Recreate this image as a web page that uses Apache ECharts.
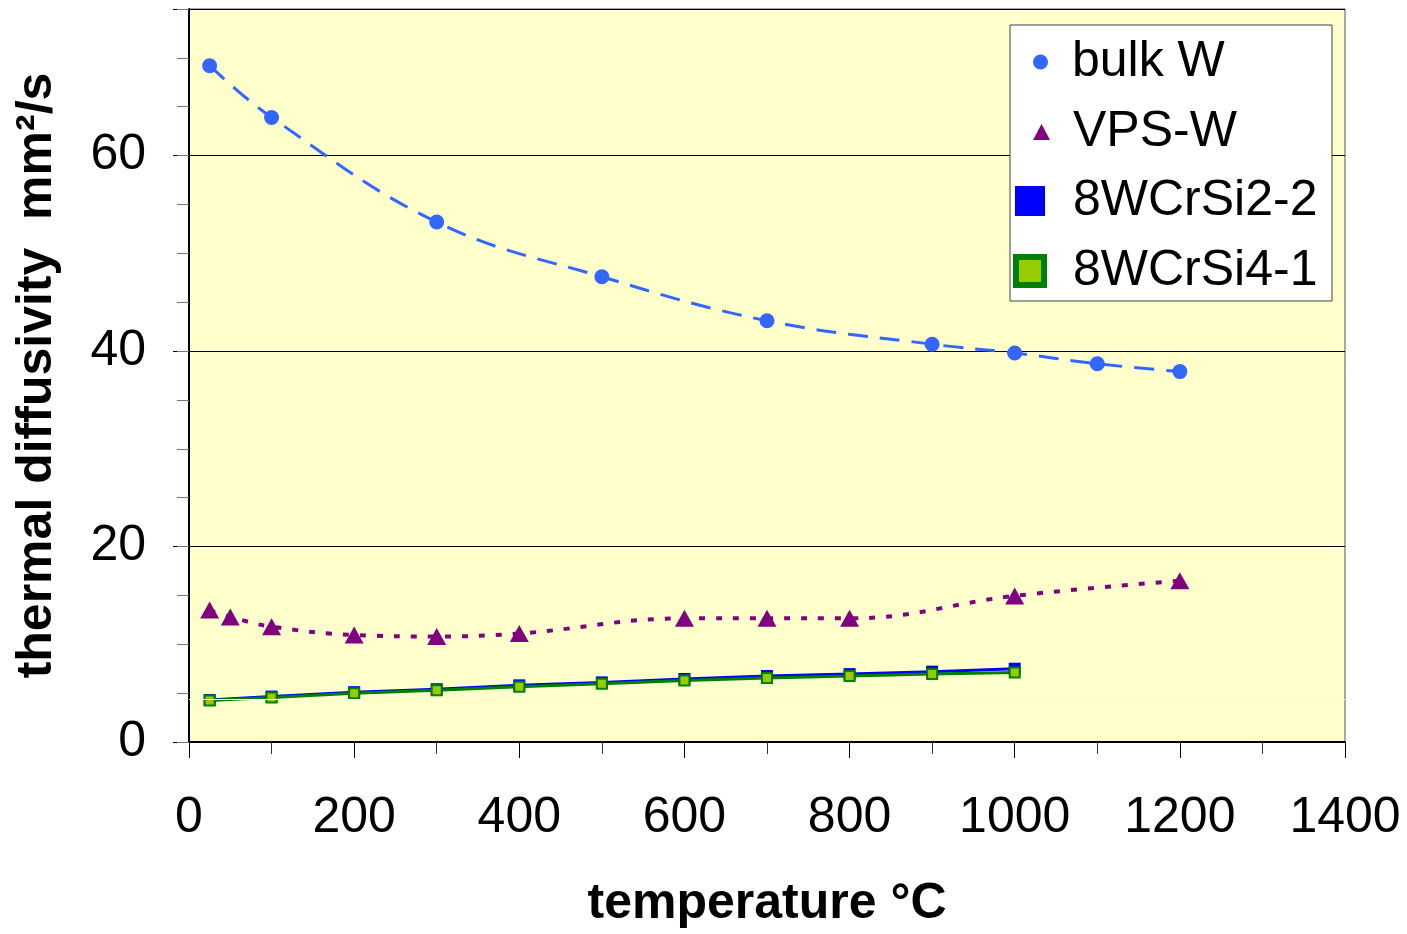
<!DOCTYPE html>
<html>
<head>
<meta charset="utf-8">
<script src="https://cdn.jsdelivr.net/npm/echarts@6/dist/echarts.min.js"></script>
<style>
  html, body { margin: 0; padding: 0; background: #fff; }
  #chart { width: 1407px; height: 934px; }
</style>
</head>
<body>
<div id="chart"></div>
<script>
// values
const bulkT = [25, 100, 300, 500, 700, 900, 1000, 1100, 1200]
const bulkW = [69.2, 63.9, 53.2, 47.6, 43.1, 40.7, 39.8, 38.7, 37.9]
const vpsT = [25, 50, 100, 200, 300, 400, 600, 700, 800, 1000, 1200]
const vpsW = [13.5, 12.8, 11.8, 10.95, 10.8, 11.1, 12.65, 12.65, 12.65, 14.95, 16.5]
const crT = [25, 100, 200, 300, 400, 500, 600, 700, 800, 900, 1000]
const cr22 = [4.3, 4.65, 5.1, 5.4, 5.8, 6.1, 6.45, 6.75, 6.95, 7.2, 7.5]
const cr41 = [4.25, 4.55, 5.0, 5.3, 5.65, 5.95, 6.3, 6.55, 6.75, 6.95, 7.1]
const names = ['bulk W', 'VPS-W', '8WCrSi2-2', '8WCrSi4-1']

const font = 'Liberation Sans, Arial, sans-serif'
const pairs = (xs, ys) => xs.map((x, i) => [x, ys[i]])

const chart = echarts.init(document.getElementById('chart'))

// one legend per entry so every icon can have its own size,
// text pushed to the same left edge with padding
function legendItem (name, icon, w, h, left, top, gap, itemStyle) {
  return {
    data: [{ name: name, icon: icon, itemStyle: itemStyle }],
    left: left,
    top: top,
    padding: 0,
    itemWidth: w,
    itemHeight: h,
    selectedMode: false,
    textStyle: { fontFamily: font, fontSize: 50, color: '#000', padding: [0, 0, 0, gap] }
  }
}

const option = {
  backgroundColor: '#fff',
  animation: false,
  grid: {
    left: 189,
    top: 9,
    right: 62,
    bottom: 189,
    show: true,
    backgroundColor: '#FFFFCC',
    borderColor: '#555',
    borderWidth: 1
  },
  graphic: [{
    type: 'rect',
    z: 3,
    shape: { x: 1010, y: 25, width: 322, height: 276 },
    style: { fill: '#fff', stroke: '#404040', lineWidth: 1 }
  }],
  legend: [
    legendItem(names[0], 'circle', 15, 15, 1033, 37, 19),
    legendItem(names[1], 'triangle', 17, 16, 1033, 107, 18),
    legendItem(names[2], 'rect', 30, 30, 1015, 176, 23),
    legendItem(names[3], 'rect', 28, 28, 1013, 246, 24, { borderWidth: 6, borderColor: '#008000' })
  ],
  xAxis: {
    type: 'value',
    min: 0,
    max: 1400,
    interval: 200,
    name: 'temperature °C',
    nameLocation: 'middle',
    nameGap: 137,
    nameTextStyle: { fontFamily: font, fontSize: 50, fontWeight: 'bold', color: '#000' },
    axisLine: { lineStyle: { color: '#000', width: 2 } },
    axisTick: { length: 16, lineStyle: { color: '#000', width: 1 } },
    minorTick: { show: true, splitNumber: 2, length: 12, lineStyle: { color: '#333', width: 1 } },
    axisLabel: { fontFamily: font, fontSize: 50, color: '#000', margin: 51, formatter: v => String(v) },
    splitLine: { show: false }
  },
  yAxis: [
    {
      type: 'value',
      min: 0,
      max: 75,
      interval: 20,
      name: 'thermal diffusivity  mm²/s',
      nameLocation: 'middle',
      nameGap: 127,
      nameTextStyle: { fontFamily: font, fontSize: 50, fontWeight: 'bold', color: '#000' },
      axisLine: { show: true, lineStyle: { color: '#000', width: 2 } },
      axisTick: { show: true, length: 16, lineStyle: { color: '#000', width: 1 } },
      axisLabel: {
        fontFamily: font,
        fontSize: 50,
        color: '#000',
        margin: 43,
        formatter: v => (v % 20 === 0 ? String(v) : '')
      },
      splitLine: { show: true, lineStyle: { color: '#000', width: 1 } }
    },
    {
      // minor ticks every 5
      type: 'value',
      min: 0,
      max: 75,
      interval: 5,
      position: 'left',
      axisLine: { show: false },
      axisTick: { show: true, length: 12, lineStyle: { color: '#777', width: 1 } },
      axisLabel: { show: false },
      splitLine: { show: false }
    }
  ],
  series: [
    {
      name: names[0],
      type: 'line',
      data: pairs(bulkT, bulkW),
      smooth: 0.4,
      symbol: 'circle',
      symbolSize: 15,
      itemStyle: { color: '#3366FF' },
      lineStyle: { color: '#3366FF', width: 3, type: [20, 12] }
    },
    {
      name: names[1],
      type: 'line',
      data: pairs(vpsT, vpsW),
      smooth: 0.4,
      symbol: 'triangle',
      symbolSize: [19, 17],
      itemStyle: { color: '#800080' },
      lineStyle: { color: '#800080', width: 4, type: [6, 11] }
    },
    {
      name: names[2],
      type: 'line',
      data: pairs(crT, cr22),
      symbol: 'rect',
      symbolSize: 12,
      itemStyle: { color: '#0000FF' },
      lineStyle: { color: '#0000FF', width: 3 },
      markLine: {
        silent: true,
        symbol: 'none',
        label: { show: false },
        lineStyle: { color: '#fff', width: 1, type: 'solid' },
        data: [{ yAxis: 4.4 }]
      }
    },
    {
      name: names[3],
      type: 'line',
      data: pairs(crT, cr41),
      symbol: 'rect',
      symbolSize: 10,
      itemStyle: { color: '#99CC00', borderColor: '#008000', borderWidth: 2 },
      lineStyle: { color: '#008000', width: 3 }
    }
  ]
}

chart.setOption(option)
</script>
</body>
</html>
